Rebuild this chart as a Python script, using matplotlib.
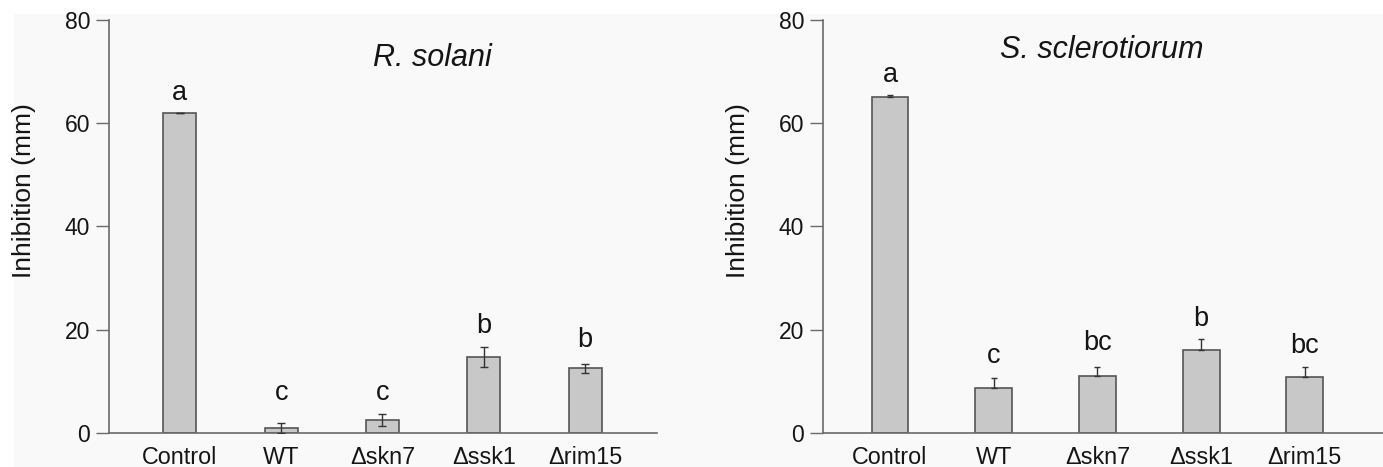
import matplotlib
matplotlib.use("Agg")
import matplotlib.pyplot as plt
from matplotlib.patches import Rectangle
import numpy as np

plt.rcParams['font.family'] = ['Liberation Sans', 'DejaVu Sans']

categories = ["Control", "WT", "\u0394skn7", "\u0394ssk1", "\u0394rim15"]

rs_values = [62.0, 1.0, 2.5, 14.7, 12.5]
rs_errors = [0.0, 1.0, 1.2, 2.0, 0.8]
rs_letters = ["a", "c", "c", "b", "b"]

ss_values = [65.0, 8.8, 11.1, 16.1, 10.9]
ss_errors = [0.5, 1.8, 1.6, 2.1, 1.9]
ss_letters = ["a", "c", "bc", "b", "bc"]

yticks = [0, 20, 40, 60, 80]

W, H = 1383, 467
fig = plt.figure(figsize=(W / 100, H / 100), dpi=100, facecolor="white")
bg = "#f9f9f9"
fig.patches.append(Rectangle((14 / W, 0), 1, 1 - 14 / H, transform=fig.transFigure,
                             facecolor=bg, edgecolor="none", zorder=-10))

bar_color = "#c8c8c8"
edge_color = "#555555"
axis_color = "#6a6a6a"
text_color = "#151515"


def make_panel(rect, vals, errs, letters, title, title_xy, xlim, width, two_sided,
               letter_offsets, capsize):
    ax = fig.add_axes(rect)
    ax.patch.set_visible(False)
    x = np.arange(len(categories))
    ax.bar(x, vals, width=width, color=bar_color, edgecolor=edge_color, linewidth=1.2, zorder=2)
    if two_sided:
        yerr = [errs, errs]
    else:
        yerr = [np.zeros(len(errs)), errs]
    ax.errorbar(x, vals, yerr=yerr, fmt="none", ecolor="#333333", elinewidth=1.0,
                capsize=capsize, capthick=1.0, zorder=3)
    for xi, v, e, lab, off in zip(x, vals, errs, letters, letter_offsets):
        ax.text(xi, v + e + off, lab, ha="center", va="baseline", fontsize=19.5,
                color=text_color)
    ax.set_xlim(*xlim)
    ax.set_ylim(0, 80)
    ax.set_yticks(yticks)
    ax.set_xticks(x)
    ax.set_xticklabels(categories, fontsize=16.8, color=text_color)
    ax.tick_params(axis="y", labelsize=16.5, colors=text_color, length=9.5, width=1.0,
                   color=axis_color, pad=4)
    ax.tick_params(axis="x", length=0, pad=9)
    for s in ["top", "right"]:
        ax.spines[s].set_visible(False)
    for s in ["left", "bottom"]:
        ax.spines[s].set_color(axis_color)
        ax.spines[s].set_linewidth(1.2)
    ax.text(title_xy[0], title_xy[1], title, transform=ax.transAxes, ha="center",
            va="center", fontsize=22, style="italic", color=text_color)
    return ax

# axes pixel geometry
y0, y1 = 433, 20
left1, right1 = 109, 657
left2, right2 = 823, 1383

rect1 = [left1 / W, 1 - y0 / H, (right1 - left1) / W, (y0 - y1) / H]
rect2 = [left2 / W, 1 - y0 / H, (right2 - left2) / W, (y0 - y1) / H]

ax1 = make_panel(rect1, rs_values, rs_errors, rs_letters, "R. solani",
                 ((432 - left1) / (right1 - left1), (y0 - 58) / (y0 - y1)),
                 (-0.70, 4.71), 0.327, True, [2.5, 4.4, 2.7, 2.7, 3.4], 2.6)
ax2 = make_panel(rect2, ss_values, ss_errors, ss_letters, "S. sclerotiorum",
                 ((1102 - left2) / (right2 - left2), (y0 - 50) / (y0 - y1)),
                 (-0.646, 4.754), 0.355, False, [2.4, 3.0, 3.4, 2.5, 2.7], 2.0)

# y labels placed in figure pixels (centre of text)
for xc in (24.5, 738):
    fig.text(xc / W, 1 - 191 / H, "Inhibition (mm)", rotation=90, ha="center",
             va="center", fontsize=19, color=text_color)

fig.savefig("out.png", dpi=100, facecolor=fig.get_facecolor())
